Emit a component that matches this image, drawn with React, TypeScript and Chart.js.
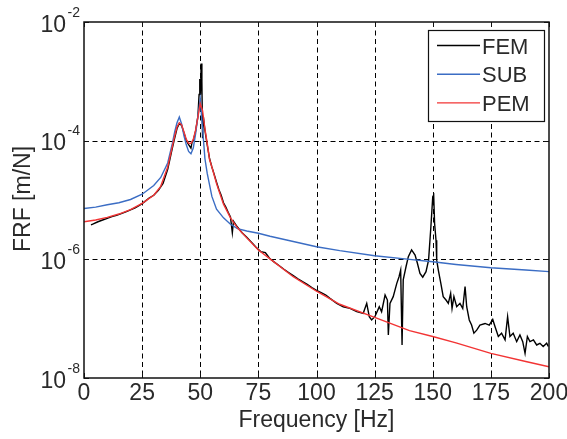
import React, { useEffect, useRef } from 'react';
import { Chart, registerables } from 'chart.js';

Chart.register(...registerables);

// ---- data ----
const freqFEM = [
  3, 4, 6, 8, 10, 12, 14, 16, 18, 20, 22, 24, 26, 28, 30, 32, 34, 36, 38, 39,
  40, 41, 42, 43, 44, 45, 46, 46.5, 47, 48, 49, 49.5, 49.8, 50.1, 50.4, 50.7, 51.0, 51.3, 52, 53,
  54, 55, 56, 57, 58, 59, 60, 61, 62, 63, 63.8, 64.3, 66, 68, 70, 72, 74, 76, 78, 79,
  80, 82, 84, 86, 88, 90, 92, 94, 96, 98, 100, 102, 104, 105.8, 108.7, 111.5, 114.4, 117.3, 120.1, 121.6,
  122.7, 123.7, 125.1, 127.0, 128.0, 129.5, 130.5, 130.9, 131.6, 133.0, 134.5, 135.5, 136.2, 136.8, 137.3, 138.5, 139.5, 140.9, 142.4, 143.4,
  144.5, 145.7, 147.1, 148.2, 149.2, 150.0, 150.4, 150.8, 151.4, 151.7, 152.4, 153.5, 154.5, 155.7, 156.7, 157.7, 158.3, 159.1, 160.3, 161.7,
  162.9, 163.9, 164.6, 165.7, 166.7, 167.7, 168.9, 170.3, 172.5, 174.3, 175.8, 176.8, 178.2, 179.6, 181.1, 182.2, 183.2, 184.6, 186.1, 187.5,
  188.7, 189.7, 190.7, 191.8, 193.3, 194.7, 196.1, 197.5, 199.0, 199.7,
];
const valFEM = [
  3.8e-6, 3.95e-6, 4.3e-6, 4.6e-6, 4.9e-6, 5.25e-6, 5.5e-6, 5.9e-6, 6.3e-6, 6.8e-6, 7.4e-6, 8.2e-6, 9.3e-6, 1.08e-5, 1.2e-5, 1.45e-5, 1.9e-5, 3.3e-5, 7.5e-5, 1.1e-4,
  1.6e-4, 1.95e-4, 1.8e-4, 1.35e-4, 1.0e-4, 8.6e-5, 7.5e-5, 9.5e-5, 1.0e-4, 1.45e-4, 2.6e-4, 6e-4, 1.1e-3, 6e-4, 2.0e-3, 1.0e-3, 1.1e-4, 2.6e-4, 1.5e-4, 8.5e-5,
  5e-5, 3.6e-5, 2.7e-5, 2.0e-5, 1.5e-5, 1.2e-5, 9e-6, 7.6e-6, 6.2e-6, 5.2e-6, 2.8e-6, 4.4e-6, 3.5e-6, 2.8e-6, 2.35e-6, 1.95e-6, 1.6e-6, 1.35e-6, 1.3e-6, 1.15e-6,
  1.02e-6, 8.9e-7, 7.8e-7, 6.8e-7, 6.0e-7, 5.3e-7, 4.7e-7, 4.2e-7, 3.8e-7, 3.35e-7, 3.0e-7, 2.75e-7, 2.5e-7, 2.2e-7, 1.81e-7, 1.59e-7, 1.49e-7, 1.31e-7, 1.23e-7, 1.81e-7,
  1.08e-7, 9.5e-8, 1.08e-7, 1.59e-7, 1.31e-7, 2.5e-7, 2.06e-7, 5.3e-8, 1.81e-7, 2.35e-7, 3.9e-7, 5.1e-7, 6.6e-7, 3.6e-8, 4.5e-7, 7.5e-7, 1.11e-6, 1.44e-6, 1.18e-6, 8.6e-7,
  5.8e-7, 5.0e-7, 6.2e-7, 9.7e-7, 3.55e-6, 1.14e-5, 1.21e-5, 4.0e-6, 2.1e-6, 9.7e-7, 6.6e-7, 3.9e-7, 2.35e-7, 2.06e-7, 1.81e-7, 2.67e-7, 1.49e-7, 2.35e-7, 1.59e-7, 1.81e-7,
  1.49e-7, 3.46e-7, 1.59e-7, 9.5e-8, 7.8e-8, 5.7e-8, 6.4e-8, 7.8e-8, 8.3e-8, 7.8e-8, 9.7e-8, 7.3e-8, 5.0e-8, 5.7e-8, 4.4e-8, 1.08e-7, 5.0e-8, 5.7e-8, 4.1e-8, 5.3e-8,
  4.1e-8, 2.6e-8, 5.0e-8, 4.1e-8, 4.4e-8, 3.6e-8, 3.85e-8, 3.4e-8, 3.85e-8, 3.4e-8,
];
const freqModel = [
  0, 5, 10, 15, 20, 25, 30, 33, 36, 38, 39, 40, 41, 42, 43, 44, 45, 46, 47, 48,
  49, 50, 51, 52, 53, 54, 55, 57, 60, 63, 66, 70, 75, 80, 90, 100, 110, 125, 140, 150,
  160, 175, 190, 200,
];
const valSUB = [
  7.2e-6, 7.6e-6, 8.3e-6, 9.0e-6, 1.02e-5, 1.25e-5, 1.75e-5, 2.4e-5, 4.2e-5, 9e-5, 1.4e-4, 2.0e-4, 2.5e-4, 1.9e-4, 1.2e-4, 8.5e-5, 6.6e-5, 6.0e-5, 7.5e-5, 1.3e-4,
  2.6e-4, 5.0e-4, 1.6e-4, 5.0e-5, 2.8e-5, 1.8e-5, 1.15e-5, 7e-6, 5e-6, 3.9e-6, 3.3e-6, 3.0e-6, 2.75e-6, 2.45e-6, 2.0e-6, 1.63e-6, 1.4e-6, 1.15e-6, 1.0e-6, 9.1e-7,
  8.2e-7, 7.2e-7, 6.6e-7, 6.2e-7,
];
const valPEM = [
  4.3e-6, 4.6e-6, 5.1e-6, 5.8e-6, 6.9e-6, 8.8e-6, 1.2e-5, 1.7e-5, 3.6e-5, 8e-5, 1.2e-4, 1.7e-4, 2.0e-4, 1.85e-4, 1.4e-4, 1.05e-4, 9e-5, 9e-5, 1.05e-4, 1.5e-4,
  2.5e-4, 4.2e-4, 3.2e-4, 1.6e-4, 9e-5, 4.8e-5, 3.6e-5, 1.9e-5, 8.5e-6, 5e-6, 3.4e-6, 2.3e-6, 1.44e-6, 1.02e-6, 5.1e-7, 2.9e-7, 1.75e-7, 1.05e-7, 6.3e-8, 5e-8,
  3.9e-8, 2.6e-8, 1.9e-8, 1.55e-8,
];
const xTicks = [0, 25, 50, 75, 100, 125, 150, 175, 200];
const yDecades = [-8, -6, -4, -2];
const seriesLabels = ['FEM', 'SUB', 'PEM'];
const seriesColors = ['#000000', '#3b6dc4', '#f23434'];

const FONT = '"Liberation Sans", Arial, sans-serif';
const TEXT = '#2a2a2a';

const decorPlugin = {
  id: 'decor',
  beforeDatasetsDraw(chart: any) {
    const { ctx, chartArea: a, scales } = chart;
    const xs = scales.x, ys = scales.y;
    ctx.save();
    ctx.strokeStyle = '#000';
    ctx.lineWidth = 1;
    ctx.setLineDash([5, 3.5]);
    xs.ticks.forEach((t: any) => {
      if (t.value <= xs.min || t.value >= xs.max) return;
      const px = Math.round(xs.getPixelForValue(t.value)) + 0.5;
      ctx.beginPath(); ctx.moveTo(px, a.top); ctx.lineTo(px, a.bottom); ctx.stroke();
    });
    ys.ticks.forEach((t: any) => {
      if (t.value <= ys.min * 1.0001 || t.value >= ys.max * 0.9999) return;
      const py = Math.round(ys.getPixelForValue(t.value)) + 0.5;
      ctx.beginPath(); ctx.moveTo(a.left, py); ctx.lineTo(a.right, py); ctx.stroke();
    });
    ctx.restore();
  },
  afterDatasetsDraw(chart: any) {
    const { ctx, chartArea: a, scales } = chart;
    const xs = scales.x, ys = scales.y;
    ctx.save();
    ctx.setLineDash([]);
    ctx.strokeStyle = '#111';
    ctx.lineWidth = 1;
    // inward ticks
    xs.ticks.forEach((t: any) => {
      const px = Math.round(xs.getPixelForValue(t.value)) + 0.5;
      ctx.beginPath();
      ctx.moveTo(px, a.bottom); ctx.lineTo(px, a.bottom - 5);
      ctx.moveTo(px, a.top); ctx.lineTo(px, a.top + 5);
      ctx.stroke();
    });
    ys.ticks.forEach((t: any) => {
      const py = Math.round(ys.getPixelForValue(t.value)) + 0.5;
      ctx.beginPath();
      ctx.moveTo(a.left, py); ctx.lineTo(a.left + 5, py);
      ctx.moveTo(a.right, py); ctx.lineTo(a.right - 5, py);
      ctx.stroke();
    });
    // frame
    ctx.lineWidth = 1.5;
    ctx.strokeStyle = '#111';
    ctx.strokeRect(a.left, a.top, a.right - a.left, a.bottom - a.top);

    // y tick labels 10^e
    ctx.fillStyle = TEXT;
    ys.ticks.forEach((t: any) => {
      const py = ys.getPixelForValue(t.value);
      const e = Math.round(Math.log10(t.value));
      ctx.font = `23px ${FONT}`;
      ctx.textAlign = 'right';
      ctx.textBaseline = 'alphabetic';
      ctx.fillText('10', a.left - 18, py + 9.5);
      ctx.font = `14px ${FONT}`;
      ctx.textAlign = 'left';
      ctx.fillText(String(e), a.left - 16.5, py - 5.5);
    });
    // y title
    ctx.save();
    ctx.translate(30, (a.top + a.bottom) / 2 - 1);
    ctx.rotate(-Math.PI / 2);
    ctx.font = `23px ${FONT}`;
    ctx.textAlign = 'center';
    ctx.textBaseline = 'alphabetic';
    ctx.fillText('FRF [m/N]', 0, 0);
    ctx.restore();

    // legend
    const bw = 116, bh = 91;
    const bx = a.right - 5 - bw, by = a.top + 8;
    ctx.fillStyle = '#fff';
    ctx.fillRect(bx, by, bw, bh);
    ctx.lineWidth = 1.2;
    ctx.strokeStyle = '#111';
    ctx.strokeRect(bx + 0.5, by + 0.5, bw, bh);
    chart.data.datasets.forEach((ds: any, i: number) => {
      const ly = by + 15.5 + i * 28.7;
      ctx.strokeStyle = ds.borderColor;
      ctx.lineWidth = 1.4;
      ctx.beginPath(); ctx.moveTo(bx + 9, ly); ctx.lineTo(bx + 52, ly); ctx.stroke();
      ctx.fillStyle = TEXT;
      ctx.font = `22px ${FONT}`;
      ctx.textAlign = 'left';
      ctx.textBaseline = 'alphabetic';
      ctx.fillText(ds.label, bx + 54, ly + 8);
    });
    ctx.restore();
  },
};

export default function App() {
  const ref = useRef<HTMLCanvasElement | null>(null);
  useEffect(() => {
    if (!ref.current) return;
    const mk = (xs: number[], ys: number[]) => xs.map((x, i) => ({ x, y: ys[i] }));
    const chart = new Chart(ref.current, {
      type: 'line',
      data: {
        datasets: [
          { label: seriesLabels[0], data: mk(freqFEM, valFEM), borderColor: seriesColors[0], borderWidth: 1.4, order: 3 },
          { label: seriesLabels[1], data: mk(freqModel, valSUB), borderColor: seriesColors[1], borderWidth: 1.4, order: 2 },
          { label: seriesLabels[2], data: mk(freqModel, valPEM), borderColor: seriesColors[2], borderWidth: 1.4, order: 1 },
        ],
      },
      options: {
        responsive: false,
        animation: false,
        events: [],
        layout: { padding: { left: 0, right: 18, top: 22, bottom: 0 } },
        elements: { point: { radius: 0 }, line: { tension: 0, fill: false } },
        plugins: { legend: { display: false }, tooltip: { enabled: false } },
        scales: {
          x: {
            type: 'linear',
            min: 0,
            max: 200,
            grid: { display: false, drawTicks: false },
            border: { display: false },
            afterBuildTicks: (s: any) => { s.ticks = xTicks.map((v) => ({ value: v })); },
            ticks: {
              autoSkip: false,
              maxRotation: 0,
              padding: 2,
              color: TEXT,
              font: { family: FONT, size: 23 },
              callback: (v: any) => String(v),
            },
            title: {
              display: true,
              text: 'Frequency [Hz]',
              color: TEXT,
              font: { family: FONT, size: 23 },
              padding: { top: 0, bottom: 5 },
            },
            afterFit: (s: any) => { s.height = 61; s.paddingLeft = 0; s.paddingRight = 0; },
          },
          y: {
            type: 'logarithmic',
            min: 1e-8,
            max: 1e-2,
            grid: { display: false, drawTicks: false },
            border: { display: false },
            afterBuildTicks: (s: any) => { s.ticks = yDecades.map((e) => ({ value: Math.pow(10, e) })); },
            ticks: { display: false },
            afterFit: (s: any) => { s.width = 84; s.paddingTop = 0; s.paddingBottom = 0; },
          },
        },
      },
      plugins: [decorPlugin],
    } as any);
    return () => chart.destroy();
  }, []);
  return (
    <div style={{ position: 'fixed', left: 0, top: 0, width: 567, height: 439, background: '#fff' }}>
      <canvas ref={ref} width={567} height={439} style={{ display: 'block', width: 567, height: 439 }} />
    </div>
  );
}
